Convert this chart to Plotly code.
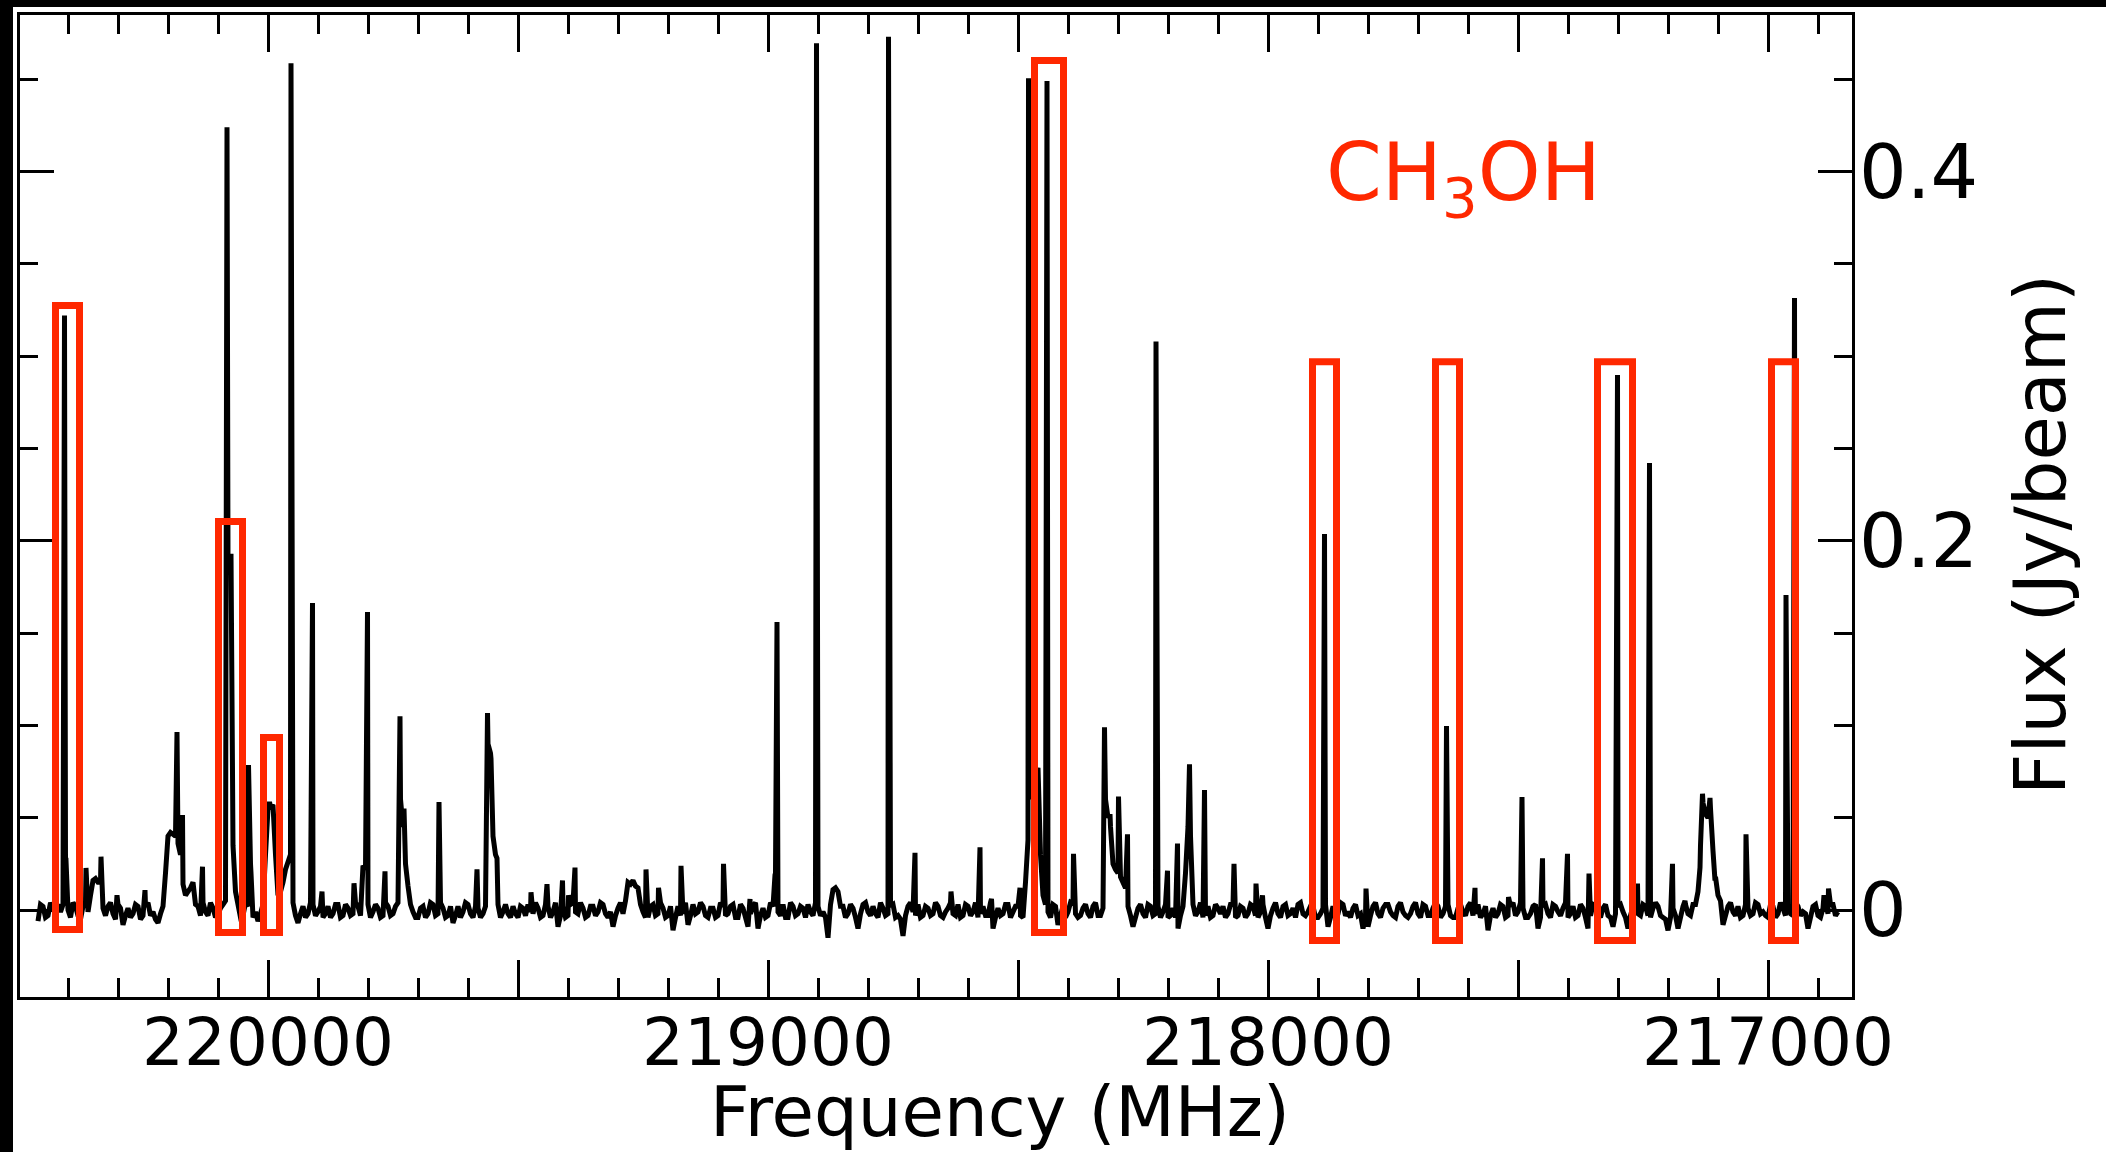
import numpy as np
import plotly.graph_objects as go

# ---------------- data ----------------
# Channel fluxes (mJy/beam) on a 10 MHz grid starting at 220460 MHz, going down
chan_start_mhz = 220460
chan_step_mhz = -10
chan_flux_mjy = [
    -6, 2, -3, 1, 3, 3, 0, 4, -3, 2, -1, 16, 15, 1, 2, -2, 3, -8, 1, -2,
    2, -3, 4, -1, -7, 2, 40, 41, 36, 14, 10, 15, 2, 4, -3, 1, -2, 3, 190, 35,
    3, -3, 2, -4, -6, 3, 55, 57, 8, 15, 26, 4, -7, 2, -2, 3, -1, -4, 2, -2,
    3, -3, 1, -2, 2, 24, 3, -1, 1, -3, 2, -2, 4, 45, 13, -1, -4, 2, -2, 3,
    -2, 1, -3, -7, 2, -1, 3, -4, 1, -2, 90, 40, 3, -1, -2, 2, -4, 1, 3, -2,
    1, -3, 2, -1, -9, 2, -3, 4, -2, 1, -3, 2, -1, 3, -4, -9, 1, -2, 15, 16,
    12, -1, -4, 3, -2, 1, -3, -11, 2, -2, -8, 3, -1, 2, -4, 1, -3, 2, -2, 3,
    -4, 1, -9, 2, -10, 1, -3, 2, -1, 3, -4, 2, -2, 1, 3, -3, 2, -1, -15, 11,
    10, 2, -2, 1, -10, 3, -1, 2, -4, 1, -2, 3, -3, -14, 2, -1, 3, -3, 1, -2,
    2, -4, 1, -2, 3, -3, 2, -1, -4, 2, -3, -10, 1, -2, 3, -1, 2, -4, 38, 60,
    77, 8, -1, 3, -8, 2, -1, 3, -4, 1, -2, 2, -3, 1, 50, 25, 20, 15, 2, -9,
    1, -2, 3, -3, 2, -1, -4, 1, -10, 2, 45, 3, -1, -4, 2, -3, 1, 2, -2, 3,
    -3, 1, -2, 2, -4, 3, -10, 1, -2, 2, -3, 1, 3, -2, -1, 2, -4, 1, -9, 2,
    -2, 3, -1, 1, -3, -10, -9, 2, -2, 1, 3, -3, 2, -1, -4, 2, -2, 3, -3, 1,
    2, -2, 3, -4, 1, -1, 2, -3, 3, -2, -11, 1, -2, 2, -3, 4, -1, 1, -4, 2,
    -10, 2, -2, 3, -1, 1, -4, 2, -3, 1, -10, 3, -2, 1, -3, -9, 2, -1, -10, 2,
    -2, 3, -3, 1, 2, -4, -11, 1, -10, 2, -2, 3, 10, 58, 50, 32, 8, -8, 2, -1,
    2, -3, 1, -2, 3, -1, -4, 2, -2, 1, 3, -3, 2, -1, -10, 2, -3, 1, -2, 3,
    -1,
]
# Fluxes (mJy/beam) of the in-between channels, 5 MHz below each grid channel
chan_mid_flux_mjy = [
    3, -4, 4, -2, -1, 27, -4, 2, -5, 4, 8, 17, 15, -3, 4, -5, 1, -3, -4, 3,
    -5, 2, -3, -5, -2, 20, 42, 40, 30, 8, 12, 3, -3, -1, 4, -4, 1, 5, 192, 10,
    -4, 4, 25, -1, -2, 30, 56, 30, 10, 22, 30, -3, -2, -4, 4, -3, 2, -2, -4, 3,
    -4, 3, -3, 4, -3, 22, -4, 3, -4, 4, -3, 2, 60, 25, 3, -4, 1, -4, 4, -3,
    4, -4, 2, -3, -4, 4, -2, 2, -4, 2, 85, 30, -4, 3, -4, -2, 2, -3, -1, 4,
    -4, 3, -4, 4, -3, -4, 3, -1, 4, -4, 2, -3, 4, -2, -1, -3, 4, 5, 14, 13,
    3, -4, 2, -3, 4, -4, 2, -4, -3, 4, -3, -2, 4, -3, 1, -4, 4, -3, 2, -4,
    3, -4, -2, 4, -3, -4, 4, 20, -3, -4, 4, -3, 2, -4, -1, 4, -3, -4, 3, 12,
    2, -4, 3, -4, -2, 4, -3, -2, 4, -3, 2, -4, -5, -3, 4, -3, -4, 2, -3, 4,
    -3, -1, 4, -3, -4, 3, -3, 4, -2, -3, 4, -4, -3, 3, -4, 2, -3, 15, 70, 72,
    30, 3, -4, 2, -3, -4, 4, -2, -3, 3, -4, 4, -3, 60, 45, 22, 18, 12, -3, -4,
    3, -4, 2, -2, -4, 3, -3, -4, -3, 20, 40, -3, 4, -3, -4, 3, -2, -4, 3, -4,
    2, -4, 3, -3, -1, -4, -3, 4, -4, 3, -2, -4, 4, -3, 2, -4, -2, 3, -4, -3,
    4, -3, -4, 3, -2, -4, -3, 4, -4, 3, -1, -4, 4, -3, -2, 4, -4, 2, -3, 4,
    -4, 2, -3, -4, 3, -3, 4, -2, -4, 2, -3, -4, 3, -4, 2, -3, 4, -4, -2, 3,
    -4, 3, -4, 2, -3, 4, -2, -4, 3, -4, -3, 2, -4, 3, -4, -2, 3, -4, -3, 4,
    -3, 2, -4, 4, -3, -5, -4, -3, -4, 3, -3, 3, 35, 52, 55, 18, 5, -3, 4, -3,
    -4, 3, -3, 4, -2, -3, 3, -4, 4, -3, -2, 4, -3, -2, -4, 3, -4, 4, 3, -3,
]

# Narrow emission-line peaks (MHz, Jy/beam)
line_freq_mhz = [
    220407, 220404, 220364, 220334, 220302, 220246, 220182, 220171, 220131,
    220082, 220074, 220039, 220034, 219997, 219954, 219911, 219892, 219828,
    219801, 219766, 219736, 219728, 219658, 219582, 219561, 219554, 219542,
    219474, 219442, 219411, 219399, 219386, 219244, 219219, 219174, 219089,
    219036, 218986, 218982, 218903, 218759, 218706, 218634, 218576, 218553,
    218496, 218479, 218442, 218389, 218327, 218316, 218299, 218281, 218224,
    218201, 218181, 218157, 218127, 218068, 218024, 218011, 217887, 217804,
    217643, 217586, 217519, 217492, 217451, 217401, 217358, 217301, 217261,
    217237, 217191, 217166, 217136, 217131, 217116, 217106, 217044, 216964,
    216947, 216888, 216879,
]
line_flux_jy = [
    0.322, 0.027, 0.0228, 0.0289, 0.008, 0.0108, 0.0964, 0.0515, 0.0235,
    0.424, 0.193, 0.0785, 0.020, 0.0585, 0.4587, 0.1663, 0.010, 0.0145,
    0.1614, 0.021, 0.105, 0.055, 0.0585, 0.022, 0.1067, 0.082, 0.028,
    0.0096, 0.014, 0.016, 0.008, 0.023, 0.022, 0.012, 0.024, 0.025,
    0.006, 0.019, 0.156, 0.4695, 0.473, 0.031, 0.010, 0.034, 0.006,
    0.012, 0.4505, 0.449, 0.0305, 0.099, 0.052, 0.0615, 0.041, 0.3079,
    0.0213, 0.036, 0.079, 0.065, 0.025, 0.0143, 0.008, 0.2037, 0.0116,
    0.0997, 0.012, 0.007, 0.0612, 0.028, 0.0305, 0.0197, 0.2898, 0.0143,
    0.2421, 0.025, 0.005, 0.023, 0.063, 0.0607, 0.016, 0.041, 0.1706,
    0.3315, 0.008, 0.0116,
]

# CH3OH highlight boxes (MHz, Jy/beam)
box_freq_hi = [220425, 220099, 220009, 218467, 217911, 217665, 217341, 216993]
box_freq_lo = [220377, 220051, 219977, 218409, 217863, 217617, 217271, 216945]
box_flux_top = [0.3275, 0.2105, 0.0934, 0.4602, 0.2970, 0.2970, 0.2970, 0.2970]
box_flux_bottom = [-0.0106, -0.0122, -0.0122, -0.0122, -0.0165, -0.0165, -0.0165, -0.0165]

x_tick_vals = [217000, 217500, 218000, 218500, 219000, 219500, 220000]
x_tick_text = ["217000", "", "218000", "", "219000", "", "220000"]
y_tick_vals = [0, 0.2, 0.4]
y_tick_text = ["0", "0.2", "0.4"]

x_range = [220496, 216832]
y_range = [-0.0471, 0.4848]

RED = "#ff2800"
FONT = "DejaVu Sans"

# ---------------- build spectrum ----------------
n = len(chan_flux_mjy)
chan_freq = chan_start_mhz + chan_step_mhz * np.arange(n)
mid_freq = chan_freq[:len(chan_mid_flux_mjy)] + chan_step_mhz / 2
freq_all = np.concatenate([chan_freq, mid_freq, np.array(line_freq_mhz, dtype=float)])
flux_all = np.concatenate([np.array(chan_flux_mjy, dtype=float) / 1000.0,
                           np.array(chan_mid_flux_mjy, dtype=float) / 1000.0,
                           np.array(line_flux_jy, dtype=float)])
order = np.argsort(-freq_all, kind="stable")
freq_all = freq_all[order]
flux_all = flux_all[order]

fig = go.Figure()
fig.add_trace(go.Scatter(
    x=freq_all, y=flux_all, mode="lines",
    line=dict(color="black", width=5, simplify=False),
    hoverinfo="skip", showlegend=False,
))

shapes = []
for fh, fl, yt, yb in zip(box_freq_hi, box_freq_lo, box_flux_top, box_flux_bottom):
    shapes.append(dict(type="rect", xref="x", yref="y", x0=fh, x1=fl, y0=yb, y1=yt,
                       line=dict(color=RED, width=7), fillcolor="rgba(0,0,0,0)",
                       layer="above"))

# black photo edges of the original figure
W, H = 2106, 1152
ML, MR, MT, MB = 20, 254, 15, 155
pw, ph = W - ML - MR, H - MT - MB
def px(xp):
    return (xp - ML) / pw
def py(yp):
    return (H - MB - yp) / ph
shapes.append(dict(type="rect", xref="paper", yref="paper", x0=px(-5), x1=px(W + 5),
                   y0=py(7), y1=py(-5), fillcolor="black", line=dict(width=0), layer="above"))
shapes.append(dict(type="rect", xref="paper", yref="paper", x0=px(-5), x1=px(13),
                   y0=py(H + 5), y1=py(-5), fillcolor="black", line=dict(width=0), layer="above"))

fig.update_layout(
    width=W, height=H,
    margin=dict(l=ML, r=MR, t=MT, b=MB, pad=0),
    paper_bgcolor="white", plot_bgcolor="white",
    shapes=shapes,
    showlegend=False,
)

fig.update_xaxes(
    range=x_range, tickmode="array", tickvals=x_tick_vals, ticktext=x_tick_text,
    ticks="inside", ticklen=37, tickwidth=3, tickcolor="black",
    showline=True, linewidth=3, linecolor="black", mirror="ticks",
    showgrid=False, zeroline=False, ticklabelstandoff=-14,
    tickfont=dict(family=FONT, size=66, color="black"),
    minor=dict(ticks="inside", ticklen=19, tickwidth=3, tickcolor="black",
               dtick=100, tick0=217000, showgrid=False),
)
fig.update_yaxes(
    range=y_range, side="right", tickmode="array", tickvals=y_tick_vals, ticktext=y_tick_text,
    ticks="inside", ticklen=34, tickwidth=3, tickcolor="black",
    showline=True, linewidth=3, linecolor="black", mirror="ticks",
    showgrid=False, zeroline=False, ticklabelstandoff=-11,
    tickfont=dict(family=FONT, size=75, color="black"),
    minor=dict(ticks="inside", ticklen=18, tickwidth=3, tickcolor="black",
               dtick=0.05, tick0=0, showgrid=False),
)

fig.add_annotation(text="CH<sub>3</sub>OH", xref="paper", yref="paper",
                   x=px(1463), y=py(178), xanchor="center", yanchor="middle",
                   showarrow=False, font=dict(family=FONT, size=80, color=RED))
fig.add_annotation(text="Frequency (MHz)", xref="paper", yref="paper",
                   x=px(1000), y=py(1112), xanchor="center", yanchor="middle",
                   showarrow=False, font=dict(family=FONT, size=69, color="black"))
fig.add_annotation(text="Flux (Jy/beam)", xref="paper", yref="paper",
                   x=px(2040), y=py(535), xanchor="center", yanchor="middle",
                   textangle=-90, showarrow=False,
                   font=dict(family=FONT, size=72, color="black"))

fig.write_html("out.html")
